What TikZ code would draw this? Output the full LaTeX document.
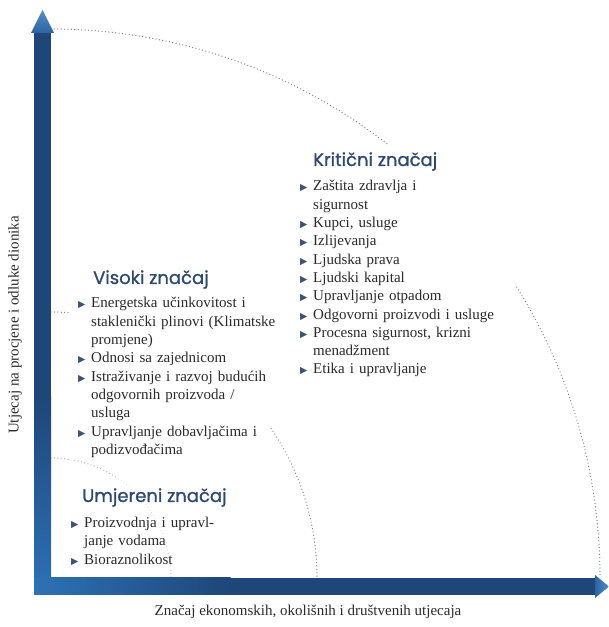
\documentclass[tikz,border=0pt]{standalone}
\usepackage{fontspec}
\setmainfont{Liberation Serif}
\newfontfamily\titlefont{Poppins}[FakeBold=1]
\newfontfamily\symfont{DejaVu Sans}
\definecolor{axdark}{HTML}{1E4679}
\definecolor{axlight}{HTML}{2D72B6}
\definecolor{titlec}{HTML}{2C4A70}
\definecolor{textc}{HTML}{2B2B2B}
\definecolor{bulc}{HTML}{3B5578}
\definecolor{dotc}{HTML}{7A8088}
\newcommand{\bl}{\makebox[13pt][l]{\color{bulc}\symfont\fontsize{9.5}{10}\selectfont ▶}}
\newcommand{\itm}[1]{\par\noindent\strut\bl#1}
\newcommand{\nl}{\newline\hspace*{13pt}}
\tikzset{
  arcdots/.style={draw=dotc, line width=1.3pt, dash pattern=on 0.01pt off 3.4pt, line cap=round},
  listblock/.style={anchor=north west, inner sep=0pt, text width=260pt, align=left,
    font=\fontsize{15}{18.3}\selectfont, text=textc},
  titletext/.style={anchor=base west, inner sep=0pt, font=\titlefont\fontsize{18}{20}\selectfont, text=titlec},
  axislabel/.style={inner sep=0pt, font=\fontsize{15}{18}\selectfont, text=textc},
  hidebox/.style={fill=white, draw=none}
}
\begin{document}
\begin{tikzpicture}[x=1pt,y=1pt]
\useasboundingbox (0,0) rectangle (609,627);
\fill[white] (0,0) rectangle (609,627);
% arcs
\coordinate (O) at (51,49);
\draw[arcdots] (51,598) arc[start angle=90,end angle=0,radius=549];
\draw[arcdots] (51,315) arc[start angle=90,end angle=0,radius=266];
\draw[arcdots, draw=dotc!60] (51,169) arc[start angle=90,end angle=0,radius=120];
% boxes hiding arcs behind text
\fill[hidebox] (295,242) rectangle (515,482);
\fill[hidebox] (70,167) rectangle (270,365);
\fill[hidebox, opacity=0.6] (62,57) rectangle (235,149);
% axes
\coordinate (vtop) at (42.5,617);
\coordinate (hend) at (609,40.5);
\fill[axdark] (34,230) rectangle (51,594);
\shade[top color=axdark, bottom color=axlight] (34,32) rectangle (51,230.5);
\shade[top color=axlight!80!white, bottom color=axlight!70!axdark] (31,594) -- (vtop) -- (54,594) -- cycle;
\fill[axdark] (230,32) rectangle (595,49);
\shade[left color=axlight, right color=axdark] (34,32) rectangle (230.5,49);
\shade[left color=axlight!70!axdark, right color=axlight!80!white] (595,29) -- (hend) -- (595,52) -- cycle;
% axis labels
\node[axislabel, rotate=90] (ylab) at (15,302) {Utjecaj na procjene i odluke dionika};
\node[axislabel] (xlab) at (308,15) {Značaj ekonomskih, okolišnih i društvenih utjecaja};
% Kriticni
\node[titletext] (kt) at (313,461) {Kritični značaj};
\node[listblock] (kl) at (300,454.5) {%
\itm{Zaštita zdravlja i\nl sigurnost}%
\itm{Kupci, usluge}%
\itm{Izlijevanja}%
\itm{Ljudska prava}%
\itm{Ljudski kapital}%
\itm{Upravljanje otpadom}%
\itm{Odgovorni proizvodi i usluge}%
\itm{Procesna sigurnost, krizni\nl menadžment}%
\itm{Etika i upravljanje}};
% Visoki
\node[titletext] (vt) at (93,343) {Visoki značaj};
\node[listblock] (vl) at (78,337.5) {%
\itm{Energetska učinkovitost i\nl staklenički plinovi (Klimatske\nl promjene)}%
\itm{Odnosi sa zajednicom}%
\itm{Istraživanje i razvoj budućih\nl odgovornih proizvoda /\nl usluga}%
\itm{Upravljanje dobavljačima i\nl podizvođačima}};
% Umjereni
\node[titletext] (ut) at (82,125) {Umjereni značaj};
\node[listblock] (ul) at (71,118) {%
\itm{Proizvodnja i upravl-\nl janje vodama}%
\itm{Bioraznolikost}};
\end{tikzpicture}
\end{document}
